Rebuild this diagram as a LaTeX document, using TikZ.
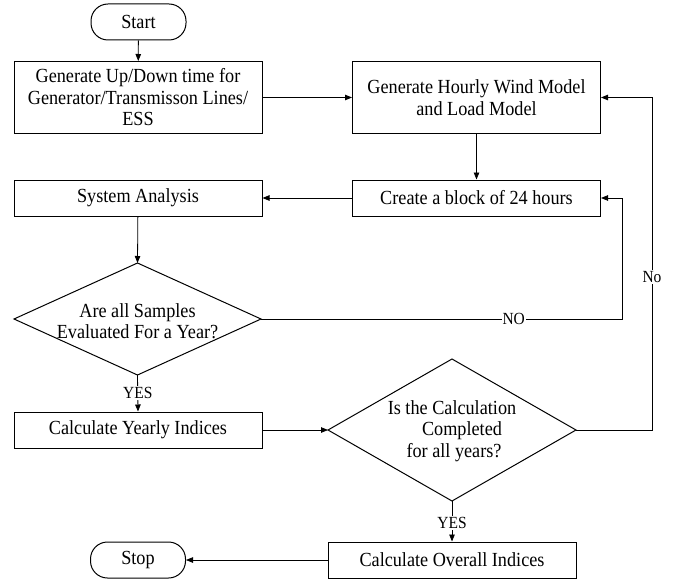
\documentclass[tikz,border=0pt]{standalone}
\usepackage{fontspec}
\setmainfont{Liberation Serif}[FakeStretch=0.91]
\usetikzlibrary{arrows.meta}
\begin{document}
\begin{tikzpicture}[x=1pt,y=-1pt,
  font=\fontsize{20pt}{21.5pt}\selectfont,
  box/.style={draw, line width=1pt, minimum width=248pt, minimum height=36pt, align=center, inner sep=2pt},
  term/.style={draw, line width=1pt, rounded corners=17pt, minimum width=95pt, minimum height=36pt, inner sep=2pt},
  txt/.style={align=center, inner sep=0pt},
  edge/.style={line width=1pt, line join=miter},
  arr/.style={-{Triangle[length=7pt,width=5.5pt]}, line width=0.8pt},
  lab/.style={fill=white, inner sep=1pt, font=\fontsize{17pt}{18pt}\selectfont}]
\useasboundingbox (0,0) rectangle (684,580);

\node[term] (start) at (138.5,22) {Start};
\node[box, minimum height=72pt] (gen) at (138,97.5) {Generate Up/Down time for\\Generator/Transmisson Lines/\\ESS};
\node[box, minimum height=72pt] (wind) at (476.5,97.5) {Generate Hourly Wind Model\\and Load Model};
\node[box] (block) at (476.5,198) {Create a block of 24 hours};
\node[box] (sys) at (138,198) {System Analysis};

% decision 1
\coordinate (d1n) at (137.5,263);
\coordinate (d1e) at (261,319);
\coordinate (d1s) at (137.5,375);
\coordinate (d1w) at (14,319);
\draw[edge] (d1n) -- (d1e) -- (d1s) -- (d1w) -- cycle;
\node[txt] (d1) at (137.5,321) {Are all Samples\\Evaluated For a Year?};

\node[box] (yearly) at (138,430) {Calculate Yearly Indices};

% decision 2
\coordinate (d2n) at (452,359);
\coordinate (d2e) at (576,430);
\coordinate (d2s) at (452,501);
\coordinate (d2w) at (328,430);
\draw[edge] (d2n) -- (d2e) -- (d2s) -- (d2w) -- cycle;
\node[txt] (d2) at (452,431) {Is the Calculation\\\hspace*{20pt}Completed\\\hspace*{4pt}for all years?};

\node[box] (overall) at (452,560) {Calculate Overall Indices};
\node[term] (stop) at (138,560) {Stop};

\coordinate (c1) at (622,319);
\coordinate (c2) at (652,430);

\draw[arr] (start) -- (gen);
\draw[arr] (gen) -- (wind);
\draw[arr] (wind) -- (block);
\draw[arr] (block) -- (sys);
\draw[arr] (sys) -- (d1n);
\draw[arr] (d1e) -- node[lab, pos=0.70]{NO} (c1) |- (block.east);
\draw[arr] (d1s) -- node[lab, pos=0.49]{YES} (yearly.north);
\draw[arr] (yearly) -- (d2w);
\draw[arr] (d2e) -- (c2) |- node[lab, pos=0.23]{No} (wind.east);
\draw[arr] (d2s) -- node[lab, pos=0.54]{YES} (overall.north);
\draw[arr] (overall) -- (stop);
\end{tikzpicture}
\end{document}
